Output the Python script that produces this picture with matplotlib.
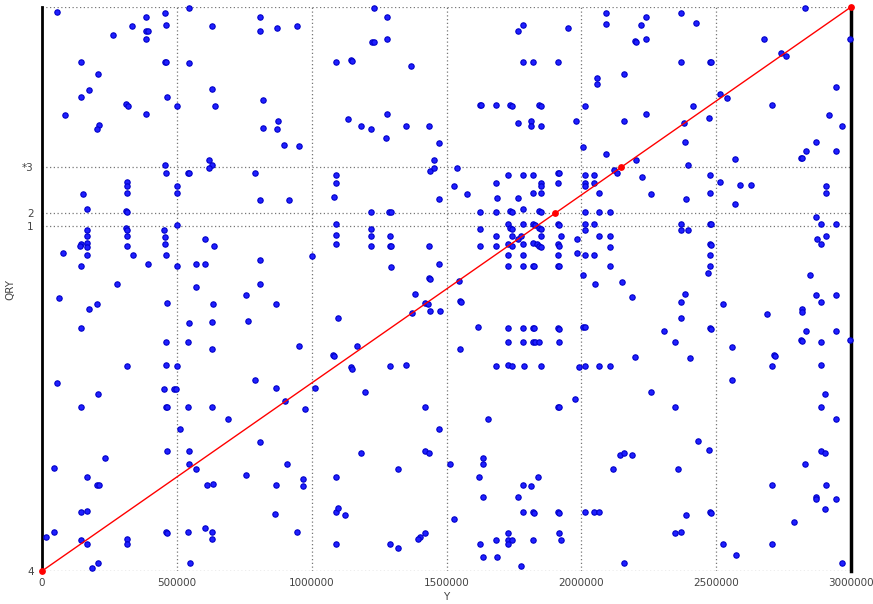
import matplotlib
matplotlib.use("Agg")
import matplotlib.pyplot as plt

# query points, grouped by x band: (position, score)
points_0_600k = [
    (57000, 0.992), (544000, 0.998), (457000, 0.989), (386000, 0.982), (334000, 0.967),
    (459000, 0.968), (386000, 0.958), (394000, 0.958), (265000, 0.950), (384000, 0.943),
    (143000, 0.902), (457000, 0.903), (461000, 0.903), (544000, 0.901), (209000, 0.881),
    (174000, 0.852), (143000, 0.841), (462000, 0.841), (311000, 0.828), (319000, 0.825),
    (499000, 0.825), (384000, 0.811), (87000, 0.808), (210000, 0.790), (205000, 0.783),
    (457000, 0.719), (461000, 0.705), (540000, 0.706), (545000, 0.705), (316000, 0.689),
    (316000, 0.682), (499000, 0.682), (152000, 0.669), (316000, 0.670), (499000, 0.670),
    (167000, 0.641), (311000, 0.639), (316000, 0.637), (499000, 0.613), (311000, 0.608),
    (316000, 0.605), (167000, 0.604), (451000, 0.604), (167000, 0.594), (316000, 0.594),
    (457000, 0.593), (143000, 0.579), (167000, 0.581), (142000, 0.576), (167000, 0.575),
    (316000, 0.576), (457000, 0.579), (77000, 0.563), (167000, 0.561), (336000, 0.561),
    (459000, 0.561), (143000, 0.541), (394000, 0.545), (499000, 0.540), (572000, 0.545),
    (279000, 0.508), (572000, 0.504), (62000, 0.484), (174000, 0.465), (205000, 0.474),
    (462000, 0.476), (143000, 0.430), (544000, 0.439), (459000, 0.406), (540000, 0.406),
    (316000, 0.363), (461000, 0.366), (499000, 0.363), (57000, 0.333), (452000, 0.323),
    (491000, 0.323), (496000, 0.323), (209000, 0.314), (143000, 0.290), (459000, 0.291),
    (464000, 0.290), (540000, 0.290), (513000, 0.251), (462000, 0.212), (544000, 0.212),
    (232000, 0.201), (544000, 0.190), (572000, 0.181), (43000, 0.183), (167000, 0.166),
    (205000, 0.153), (211000, 0.152), (143000, 0.105), (167000, 0.106), (43000, 0.070),
    (15000, 0.061), (459000, 0.070), (464000, 0.068), (540000, 0.070), (143000, 0.055),
    (316000, 0.056), (167000, 0.048), (314000, 0.047), (209000, 0.014), (549000, 0.014),
    (185000, 0.005),
]

points_600k_1180k = [
    (632000, 0.967), (810000, 0.982), (810000, 0.958), (871000, 0.962), (944000, 0.967),
    (1090000, 0.903), (1145000, 0.906), (1151000, 0.904), (630000, 0.855), (642000, 0.825),
    (821000, 0.835), (874000, 0.798), (821000, 0.785), (870000, 0.783), (897000, 0.755),
    (954000, 0.753), (1136000, 0.801), (621000, 0.728), (632000, 0.719), (621000, 0.714),
    (789000, 0.706), (1090000, 0.703), (1090000, 0.688), (1083000, 0.664), (810000, 0.658),
    (917000, 0.658), (1090000, 0.615), (1090000, 0.595), (1090000, 0.580), (604000, 0.588),
    (637000, 0.577), (604000, 0.545), (810000, 0.552), (1001000, 0.558), (810000, 0.508),
    (756000, 0.490), (635000, 0.474), (869000, 0.474), (632000, 0.441), (764000, 0.443),
    (1099000, 0.449), (630000, 0.394), (954000, 0.399), (1169000, 0.399), (1078000, 0.383),
    (1084000, 0.381), (1146000, 0.361), (1151000, 0.359), (789000, 0.339), (868000, 0.325),
    (1014000, 0.325), (632000, 0.290), (974000, 0.288), (902000, 0.301), (688000, 0.270),
    (810000, 0.229), (910000, 0.190), (756000, 0.170), (613000, 0.153), (635000, 0.154),
    (869000, 0.153), (968000, 0.163), (968000, 0.150), (1090000, 0.166), (864000, 0.101),
    (1090000, 0.105), (1098000, 0.111), (1124000, 0.100), (603000, 0.077), (632000, 0.069),
    (632000, 0.057), (944000, 0.069), (1090000, 0.048),
]

points_1180k_1770k = [
    (1231000, 0.998), (1278000, 0.982), (1766000, 0.958), (1225000, 0.938), (1230000, 0.938),
    (1278000, 0.943), (1368000, 0.895), (1278000, 0.810), (1183000, 0.789), (1220000, 0.783),
    (1350000, 0.789), (1434000, 0.789), (1277000, 0.768), (1623000, 0.826), (1627000, 0.826),
    (1683000, 0.826), (1737000, 0.826), (1743000, 0.825), (1765000, 0.794), (1472000, 0.759),
    (1455000, 0.728), (1440000, 0.710), (1455000, 0.714), (1538000, 0.715), (1728000, 0.703),
    (1527000, 0.683), (1685000, 0.688), (1576000, 0.669), (1472000, 0.659), (1687000, 0.661),
    (1765000, 0.661), (1220000, 0.637), (1288000, 0.637), (1294000, 0.637), (1623000, 0.637),
    (1683000, 0.637), (1735000, 0.638), (1743000, 0.636), (1220000, 0.606), (1220000, 0.594),
    (1292000, 0.594), (1220000, 0.576), (1292000, 0.576), (1294000, 0.576), (1434000, 0.576),
    (1623000, 0.606), (1623000, 0.576), (1683000, 0.594), (1683000, 0.576), (1728000, 0.615),
    (1737000, 0.608), (1744000, 0.606), (1743000, 0.594), (1765000, 0.588), (1728000, 0.580),
    (1743000, 0.576), (1728000, 0.561), (1728000, 0.541), (1295000, 0.539), (1472000, 0.545),
    (1434000, 0.519), (1438000, 0.517), (1545000, 0.514), (1384000, 0.491), (1421000, 0.476),
    (1433000, 0.474), (1438000, 0.461), (1476000, 0.461), (1549000, 0.479), (1555000, 0.477),
    (1373000, 0.457), (1617000, 0.432), (1728000, 0.430), (1728000, 0.406), (1549000, 0.394),
    (1292000, 0.363), (1350000, 0.366), (1683000, 0.363), (1728000, 0.366), (1743000, 0.363),
    (1199000, 0.318), (1421000, 0.290), (1655000, 0.269), (1472000, 0.251), (1183000, 0.210),
    (1421000, 0.212), (1434000, 0.210), (1512000, 0.190), (1637000, 0.200), (1637000, 0.190),
    (1622000, 0.166), (1319000, 0.180), (1637000, 0.131), (1765000, 0.131), (1527000, 0.092),
    (1728000, 0.068), (1683000, 0.055), (1728000, 0.055), (1743000, 0.055), (1728000, 0.048),
    (1421000, 0.068), (1400000, 0.061), (1394000, 0.057), (1292000, 0.047), (1321000, 0.041),
    (1623000, 0.047), (1637000, 0.025), (1687000, 0.025),
]

points_1770k_2360k = [
    (1784000, 0.968), (1952000, 0.962), (2091000, 0.990), (2091000, 0.969), (2238000, 0.982),
    (2221000, 0.968), (2198000, 0.939), (2203000, 0.938), (2238000, 0.943), (1784000, 0.903),
    (1819000, 0.903), (1912000, 0.903), (2058000, 0.875), (2058000, 0.863), (2158000, 0.881),
    (1844000, 0.826), (1850000, 0.825), (2012000, 0.825), (1812000, 0.798), (1812000, 0.789),
    (1849000, 0.789), (1981000, 0.797), (2158000, 0.798), (2238000, 0.811), (2007000, 0.752),
    (2091000, 0.740), (2203000, 0.728), (1784000, 0.703), (1819000, 0.703), (1912000, 0.705),
    (1916000, 0.705), (2120000, 0.711), (2132000, 0.706), (1849000, 0.688), (1849000, 0.682),
    (1912000, 0.688), (2012000, 0.703), (2047000, 0.703), (2012000, 0.688), (2012000, 0.682),
    (2047000, 0.688), (2226000, 0.699), (1819000, 0.670), (1849000, 0.670), (2067000, 0.670),
    (2257000, 0.668), (1784000, 0.641), (1844000, 0.639), (1850000, 0.637), (2012000, 0.636),
    (2067000, 0.636), (2107000, 0.636), (1784000, 0.615), (1819000, 0.615), (1827000, 0.613),
    (1844000, 0.608), (1850000, 0.606), (1912000, 0.615), (1916000, 0.614), (2012000, 0.615),
    (2012000, 0.605), (2047000, 0.615), (1776000, 0.594), (1849000, 0.594), (1924000, 0.594),
    (2067000, 0.594), (2107000, 0.594), (1784000, 0.579), (1819000, 0.581), (1837000, 0.580),
    (1844000, 0.577), (1849000, 0.575), (1912000, 0.580), (1916000, 0.577), (1985000, 0.588),
    (2107000, 0.575), (1784000, 0.561), (1912000, 0.561), (1985000, 0.563), (2012000, 0.561),
    (2047000, 0.561), (1784000, 0.541), (1819000, 0.541), (1824000, 0.541), (1912000, 0.541),
    (1916000, 0.541), (2107000, 0.540), (2007000, 0.525), (2051000, 0.508), (2149000, 0.513),
    (2188000, 0.485), (1784000, 0.430), (1819000, 0.431), (1824000, 0.430), (1912000, 0.431),
    (1916000, 0.429), (2007000, 0.432), (2012000, 0.432), (2306000, 0.425), (2347000, 0.406),
    (1784000, 0.406), (1819000, 0.406), (1827000, 0.406), (1844000, 0.406), (1916000, 0.406),
    (1788000, 0.363), (1849000, 0.363), (1992000, 0.361), (2012000, 0.363), (2067000, 0.363),
    (2107000, 0.363), (2200000, 0.380), (1975000, 0.305), (1912000, 0.290), (1916000, 0.290),
    (2258000, 0.318), (2347000, 0.290), (2143000, 0.206), (2158000, 0.210), (2188000, 0.206),
    (2117000, 0.181), (2358000, 0.181), (1784000, 0.152), (1812000, 0.150), (1840000, 0.166),
    (1784000, 0.105), (1819000, 0.105), (1824000, 0.103), (1912000, 0.105), (1916000, 0.103),
    (2012000, 0.105), (2047000, 0.105), (2067000, 0.105), (1916000, 0.068), (2347000, 0.068),
    (1819000, 0.055), (1924000, 0.055), (2158000, 0.014), (1776000, 0.009),
]

points_2360k_3000k = [
    (2369000, 0.989), (2424000, 0.972), (2369000, 0.903), (2478000, 0.903), (2482000, 0.902),
    (2678000, 0.943), (2740000, 0.919), (2759000, 0.913), (2830000, 0.998), (2997000, 0.943),
    (2516000, 0.846), (2541000, 0.838), (2413000, 0.825), (2708000, 0.826), (2474000, 0.803),
    (2381000, 0.794), (2385000, 0.760), (2945000, 0.858), (2917000, 0.808), (2966000, 0.789),
    (2870000, 0.760), (2832000, 0.745), (2945000, 0.745), (2813000, 0.732), (2818000, 0.732),
    (2571000, 0.730), (2395000, 0.719), (2478000, 0.703), (2515000, 0.689), (2589000, 0.685),
    (2628000, 0.685), (2906000, 0.682), (2906000, 0.670), (2478000, 0.670), (2389000, 0.660),
    (2571000, 0.650), (2872000, 0.627), (2369000, 0.615), (2478000, 0.615), (2482000, 0.615),
    (2889000, 0.615), (2945000, 0.616), (2369000, 0.604), (2395000, 0.604), (2875000, 0.588),
    (2906000, 0.594), (2889000, 0.579), (2478000, 0.580), (2482000, 0.578), (2478000, 0.561),
    (2478000, 0.541), (2468000, 0.529), (2849000, 0.524), (2385000, 0.492), (2872000, 0.490),
    (2945000, 0.490), (2369000, 0.477), (2524000, 0.474), (2889000, 0.477), (2687000, 0.455),
    (2818000, 0.465), (2818000, 0.459), (2369000, 0.449), (2478000, 0.431), (2482000, 0.429),
    (2832000, 0.426), (2813000, 0.410), (2818000, 0.408), (2945000, 0.426), (2889000, 0.406),
    (2997000, 0.410), (2557000, 0.397), (2404000, 0.378), (2714000, 0.383), (2720000, 0.381),
    (2708000, 0.363), (2889000, 0.366), (2557000, 0.339), (2903000, 0.314), (2889000, 0.290),
    (2945000, 0.269), (2431000, 0.230), (2474000, 0.214), (2889000, 0.212), (2903000, 0.210),
    (2829000, 0.189), (2708000, 0.153), (2906000, 0.152), (2872000, 0.132), (2872000, 0.128),
    (2945000, 0.128), (2903000, 0.110), (2388000, 0.100), (2478000, 0.105), (2482000, 0.103),
    (2790000, 0.086), (2524000, 0.047), (2706000, 0.047), (2573000, 0.028), (2966000, 0.014),
    (2369000, 0.069),
]

# reference diagonal and its marked points
ref_x = [0, 1902000, 2148000, 3000000]
ref_y = [0.0, 0.634, 0.716, 1.0]

y_ticks = [0.0, 0.612, 0.635, 0.716]
y_tick_labels = ["4", "1", "2", "*3"]
x_ticks = [0, 500000, 1000000, 1500000, 2000000, 2500000, 3000000]

all_points = (points_0_600k + points_600k_1180k + points_1180k_1770k
              + points_1770k_2360k + points_2360k_3000k)
blue_x = [p[0] for p in all_points]
blue_y = [p[1] for p in all_points]

fig = plt.figure(figsize=(8.73, 6.04), dpi=100)
ax = fig.add_axes([42 / 873, 33 / 604, 809 / 873, 564 / 604])
ax.set_xlim(0, 3000000)
ax.set_ylim(0, 1)

grid_style = dict(color="#777777", linewidth=0.9, linestyle=(0, (1, 2)), zorder=1)
for gx in x_ticks[1:-1]:
    ax.axvline(gx, **grid_style)
for gy in y_ticks + [1.0]:
    ax.axhline(gy, **grid_style)

ax.scatter(blue_x, blue_y, s=15, facecolor="#1f1fff", edgecolor="#0000c8",
           linewidth=0.8, zorder=3, clip_on=False)
ax.plot(ref_x, ref_y, color="red", linewidth=1.0, zorder=4, clip_on=False)
ax.scatter(ref_x, ref_y, s=15, color="red", zorder=5, clip_on=False)

ax.spines["top"].set_visible(False)
ax.spines["bottom"].set_visible(False)
ax.spines["left"].set_linewidth(2.0)
ax.spines["right"].set_linewidth(2.5)

ax.set_xticks(x_ticks)
ax.set_xticklabels([str(v) for v in x_ticks])
ax.set_yticks(y_ticks)
ax.set_yticklabels(y_tick_labels)
ax.tick_params(length=0, labelsize=7.5, labelcolor="#444444")
ax.tick_params(axis="y", pad=6)
ax.tick_params(axis="x", pad=5)

ax.set_xlabel("Y", fontsize=7.5, color="#444444", labelpad=3)
ax.set_ylabel("QRY", fontsize=7.5, color="#444444")
ax.yaxis.set_label_coords(-0.033, 0.5)

fig.savefig("out.png", dpi=100)
